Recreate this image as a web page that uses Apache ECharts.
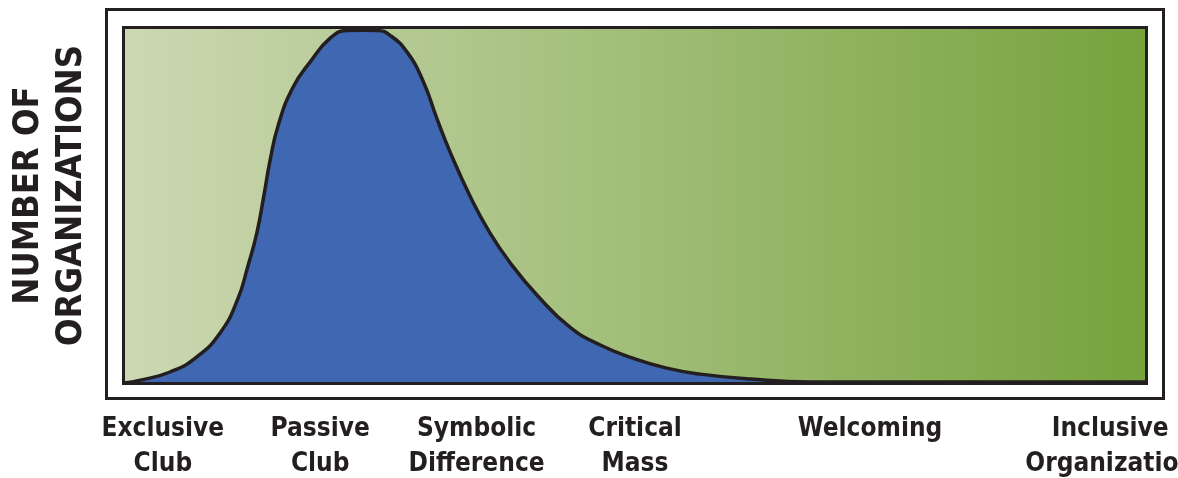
<!DOCTYPE html>
<html>
<head>
<meta charset="utf-8">
<script src="https://cdn.jsdelivr.net/npm/echarts@6/dist/echarts.min.js"></script>
<style>
html,body{margin:0;padding:0;background:#fff;}
#c{width:1178px;height:478px;}
</style>
</head>
<body>
<div id="c"></div>
<script>
// Stage labels and their positions along the horizontal scale (0..100)
const stageNames = ['Exclusive\nClub', 'Passive\nClub', 'Symbolic\nDifference', 'Critical\nMass', 'Welcoming', 'Inclusive\nOrganization'];
const stagePositions = [3.8, 19.2, 34.5, 50.0, 73.0, 96.5];

// Distribution curve (x position, number of organizations, relative 0..100)
const curveX = [0, 1.6, 4.5, 7.1, 9.4, 11.1, 12.1, 13.0, 13.7, 14.3, 15.1, 16.5, 18.2, 20.2, 21.8, 23.3, 24.8, 26.0, 27.7, 29.3, 30.6, 31.9, 33.9, 35.8, 37.8, 40.4, 43.6, 46.6, 49.8, 53.1, 56.4, 61.3, 67.1, 100];
const curveY = [0, 0.8, 3.1, 7.3, 14.1, 23.4, 32.7, 42.3, 53.0, 62.8, 72.7, 83.1, 90.4, 97.2, 99.3, 99.4, 99.3, 98.0, 93.2, 84.8, 74.6, 65.1, 52.4, 42.3, 33.8, 24.8, 15.8, 10.7, 7.0, 4.2, 2.5, 1.1, 0.3, 0.3];

const yName = 'NUMBER OF\nORGANIZATIONS';

const W = 1178, H = 478;
const G = {left: 124, top: 28, right: 32, bottom: 95};
const ink = '#231f20';
const labelFont = "'Liberation Sans Narrow', 'DejaVu Sans Condensed', 'Liberation Sans', sans-serif";

const chart = echarts.init(document.getElementById('c'), null, {renderer: 'canvas'});
const option = {
  animation: false,
  backgroundColor: '#ffffff',
  grid: {
    left: G.left, top: G.top, right: G.right, bottom: G.bottom,
    containLabel: false,
    outerBoundsMode: 'none',
    show: true,
    borderWidth: 0,
    backgroundColor: {
      type: 'linear', x: 0, y: 0, x2: 1, y2: 0,
      colorStops: [{offset: 0, color: '#ccd8b3'}, {offset: 1, color: '#76a33c'}]
    }
  },
  xAxis: {
    type: 'value', min: 0, max: 100,
    axisLine: {show: false}, axisTick: {show: false}, splitLine: {show: false},
    axisLabel: {
      customValues: stagePositions,
      formatter: function (v) {
        const i = stagePositions.indexOf(v);
        return i >= 0 ? stageNames[i] : '';
      },
      margin: 29,
      color: ink,
      fontFamily: labelFont,
      fontWeight: 'bold',
      fontSize: 26,
      lineHeight: 35,
      hideOverlap: false
    }
  },
  yAxis: {
    type: 'value', min: 0, max: 100,
    axisLine: {show: false}, axisTick: {show: false}, splitLine: {show: false},
    axisLabel: {show: false},
    name: yName,
    nameLocation: 'middle',
    nameRotate: 90,
    nameGap: 31,
    nameMoveOverlap: false,
    nameTextStyle: {
      color: ink, fontFamily: "'DejaVu Sans Condensed', 'DejaVu Sans', sans-serif", fontWeight: 'bold',
      fontSize: 36, lineHeight: 43, padding: [0, 0, 0, 20]
    }
  },
  series: [{
    type: 'line',
    data: curveX.map((x, i) => [x, curveY[i]]),
    smooth: 0.5,
    symbol: 'none',
    clip: false,
    lineStyle: {color: ink, width: 3.5},
    areaStyle: {color: '#4068b2', opacity: 1},
    z: 2
  }],
  graphic: [
    {
      type: 'rect', z: 100, silent: true,
      shape: {x: G.left - 0.5, y: G.top - 0.5, width: W - G.left - G.right + 1, height: H - G.top - G.bottom + 1},
      style: {fill: 'none', stroke: ink, lineWidth: 3}
    },
    {
      type: 'rect', z: 100, silent: true,
      shape: {x: G.left - 17.5, y: G.top - 18.5, width: W - G.left - G.right + 35, height: H - G.top - G.bottom + 34},
      style: {fill: 'none', stroke: ink, lineWidth: 3}
    }
  ]
};
chart.setOption(option);
</script>
</body>
</html>
